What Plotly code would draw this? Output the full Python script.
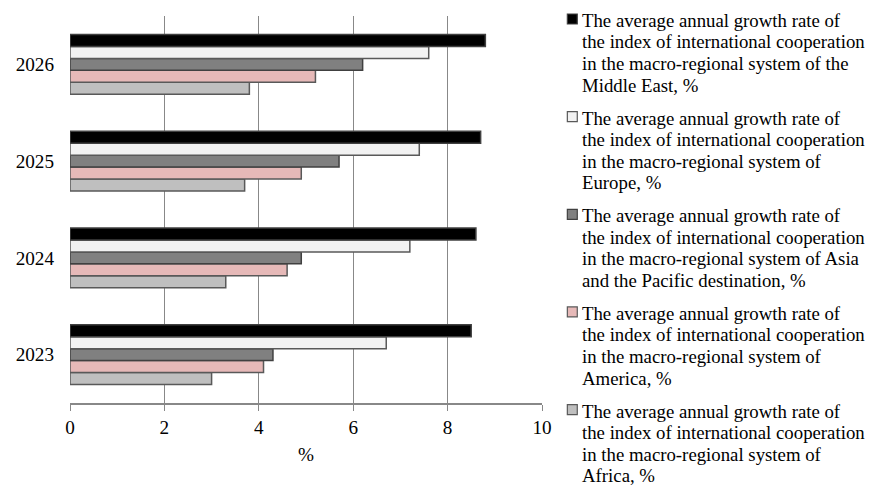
import plotly.graph_objects as go

years = ["2023", "2024", "2025", "2026"]
middle_east = [8.5, 8.6, 8.7, 8.8]
europe = [6.7, 7.2, 7.4, 7.6]
asia_pacific = [4.3, 4.9, 5.7, 6.2]
america = [4.1, 4.6, 4.9, 5.2]
africa = [3.0, 3.3, 3.7, 3.8]

x_ticks = [0, 2, 4, 6, 8, 10]

legend_lines = [
    ["The average annual growth rate of", "the index of international cooperation",
     "in the macro-regional system of the", "Middle East, %"],
    ["The average annual growth rate of", "the index of international cooperation",
     "in the macro-regional system of", "Europe, %"],
    ["The average annual growth rate of", "the index of international cooperation",
     "in the macro-regional system of Asia", "and the Pacific destination, %"],
    ["The average annual growth rate of", "the index of international cooperation",
     "in the macro-regional system of", "America, %"],
    ["The average annual growth rate of", "the index of international cooperation",
     "in the macro-regional system of", "Africa, %"],
]
series = [middle_east, europe, asia_pacific, america, africa]
fills = ["#000000", "#f2f2f2", "#808080", "#e6b9b8", "#bfbfbf"]
lines = ["#404040", "#595959", "#404040", "#595959", "#595959"]

FONT = "Liberation Serif, Times New Roman, serif"
FS = 19.2      # axis text
LFS = 18.8     # legend text

# figure geometry (page has an 8px body margin)
W, H = 868, 477
L, R, T, B = 59, 534, 8, 395
pw, ph = R - L, B - T


def px(x):
    return (x - L) / pw


def py(y):
    return (B - y) / ph


fig = go.Figure()
# bottom-most bar in each group first
for i in reversed(range(5)):
    fig.add_trace(go.Bar(
        y=years, x=series[i], orientation="h",
        marker=dict(color=fills[i], line=dict(color=lines[i], width=1.5)),
        name=" ".join(legend_lines[i]), showlegend=False,
    ))

annotations = []
shapes = []
for i in range(5):
    base0 = 18.7 + i * 97.65
    for j, txt in enumerate(legend_lines[i]):
        base = base0 + j * 21.6
        annotations.append(dict(
            x=px(572.2), y=py(base - LFS), xref="paper", yref="paper",
            xanchor="left", yanchor="top", align="left",
            text=txt, showarrow=False,
            font=dict(family=FONT, size=LFS, color="#000000"),
        ))
    shapes.append(dict(
        type="rect", xref="paper", yref="paper",
        x0=px(559.5), x1=px(569.5), y0=py(base0 - 2.7), y1=py(base0 - 12.7),
        fillcolor=fills[i], line=dict(color=lines[i], width=1.2),
    ))

fig.update_layout(
    width=W, height=H,
    margin=dict(l=L, r=W - R, t=T, b=H - B),
    barmode="group", bargap=0.38, bargroupgap=0,
    plot_bgcolor="white", paper_bgcolor="white",
    font=dict(family=FONT, size=FS, color="#000000"),
    annotations=annotations, shapes=shapes,
    xaxis=dict(
        range=[0, 10], tickvals=x_ticks, ticktext=[str(v) for v in x_ticks],
        showgrid=True, gridcolor="#888888", gridwidth=1.2,
        zeroline=False, showline=True, linecolor="#888888", linewidth=1.5,
        ticks="outside", ticklen=6, tickcolor="#888888",
        ticklabelstandoff=0,
        tickfont=dict(family=FONT, size=FS),
        title=dict(text="%", font=dict(family=FONT, size=FS), standoff=11),
    ),
    yaxis=dict(
        categoryorder="array", categoryarray=years,
        range=[-0.5, 3.5], showgrid=False, zeroline=False,
        showline=False, ticks="", ticklabelstandoff=15,
        tickfont=dict(family=FONT, size=FS),
    ),
)

fig.write_html("out.html")
